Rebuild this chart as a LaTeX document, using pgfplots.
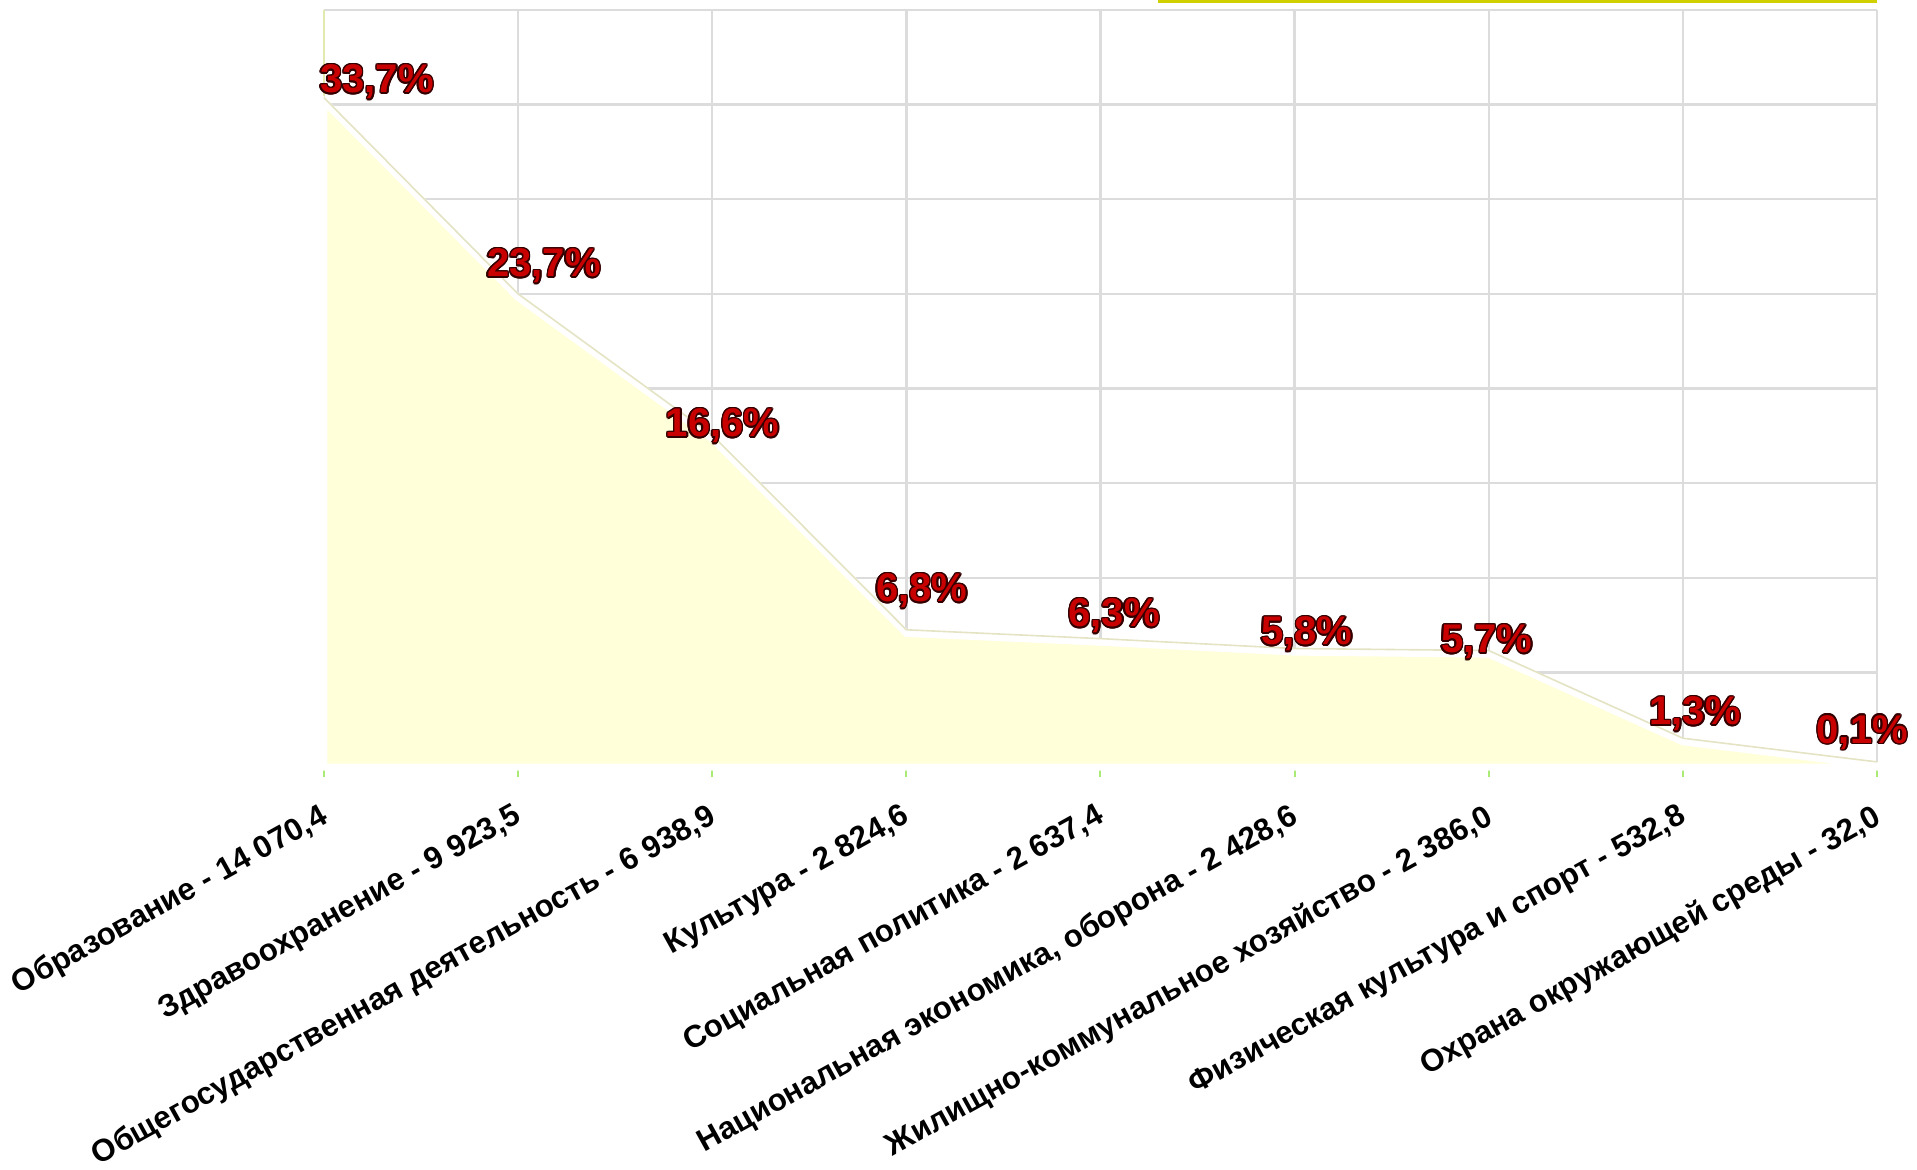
\documentclass[border=0pt]{standalone}
\usepackage{pgfplots}
\pgfplotsset{compat=1.18}
\usepackage{fontspec}
\setmainfont{Liberation Sans}
\usepackage{contour}
\contourlength{0.7pt}

\definecolor{areafill}{RGB}{255,255,217}
\definecolor{areaedge}{RGB}{228,228,196}
\definecolor{gridgray}{RGB}{220,220,220}
\definecolor{axgreen}{RGB}{170,235,120}
\definecolor{axyellow}{RGB}{226,234,176}
\definecolor{topbar}{RGB}{208,208,0}
\definecolor{lblred}{RGB}{200,0,0}

\begin{document}
\begin{tikzpicture}
\useasboundingbox (-162pt,-201pt) rectangle (796.5pt,383.5pt);
\begin{axis}[
    at={(0,0)}, anchor=south west,
    scale only axis,
    width=776.5pt, height=378.5pt,
    xmin=0, xmax=8, ymin=0, ymax=16000,
    xtick={0,...,8},
    ytick={0,2000,...,16000},
    yticklabels={},
    xticklabels={
        {Образование - 14 070,4},
        {Здравоохранение - 9 923,5},
        {Общегосударственная деятельность - 6 938,9},
        {Культура - 2 824,6},
        {Социальная политика - 2 637,4},
        {Национальная экономика, оборона - 2 428,6},
        {Жилищно-коммунальное хозяйство - 2 386,0},
        {Физическая культура и спорт - 532,8},
        {Охрана окружающей среды - 32,0}
    },
    xticklabel style={rotate=29, anchor=north east, inner sep=0pt,
        yshift=-9.5pt, xshift=-8.5pt, font=\bfseries\fontsize{15.6}{19}\selectfont},
    axis x line*=bottom, axis y line*=left,
    x axis line style={axgreen, line width=1.2pt, -},
    y axis line style={axyellow, line width=1.2pt, -},
    tick align=outside, major tick length=5pt,
    xtick style={axgreen, line width=1pt},
    ytick style={draw=none},
    grid=major,
    major grid style={gridgray, line width=1.2pt},
    clip=false,
]

% area
\addplot[fill=areafill, draw=white, line width=3.5pt] coordinates {
    (0,14070.4) (1,9923.5) (2,6938.9) (3,2824.6) (4,2637.4)
    (5,2428.6) (6,2386.0) (7,532.8) (8,32.0)
} \closedcycle;
\addplot[areaedge, line width=0.8pt, yshift=1.8pt] coordinates {
    (0,14070.4) (1,9923.5) (2,6938.9) (3,2824.6) (4,2637.4)
    (5,2428.6) (6,2386.0) (7,532.8) (8,32.0)
};

% percentage labels
\addplot[draw=none, point meta=explicit symbolic,
    nodes near coords={\contour{black!80!red}{\textcolor{lblred}{\pgfplotspointmeta}}},
    every node near coord/.append style={anchor=base, inner sep=0pt,
        font=\bfseries\fontsize{20}{24}\selectfont}]
coordinates {
    (0.273,14248) [33,7\%]
    (1.133,10359) [23,7\%]
    (2.053,6976)  [16,6\%]
    (3.079,3488)  [6,8\%]
    (4.07,2960)   [6,3\%]
    (5.063,2579)  [5,8\%]
    (5.990,2410)  [5,7\%]
    (7.063,888)   [1,3\%]
    (7.924,507)   [0,1\%]
};

\draw[topbar, line width=1.6pt] ([yshift=4.3pt]rel axis cs:0.537,1) -- ([yshift=4.3pt]rel axis cs:1,1);
\end{axis}
\end{tikzpicture}
\end{document}
